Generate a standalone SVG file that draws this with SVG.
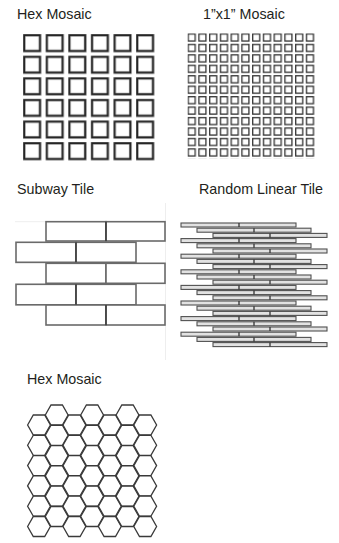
<svg xmlns="http://www.w3.org/2000/svg" xmlns:xlink="http://www.w3.org/1999/xlink" width="339" height="543" viewBox="0 0 339 543">
<style>
.lbl{font-family:"Liberation Sans","Open Sans",Arial,sans-serif;font-size:14.3px;fill:#231f20}
.brick{fill:#fff;stroke:#6a6a6a;stroke-width:1.6}
.faint{fill:none;stroke:#eeeeee;stroke-width:1}
.strip{fill:#e2e2e2;stroke:#505050;stroke-width:1.1}
.joint{stroke:#333;stroke-width:1.3}
.hex{fill:#fff;stroke:#3a3a3a;stroke-width:1.3}
</style>
<defs>
<pattern id="sq1" patternUnits="userSpaceOnUse" x="23" y="34" width="22.6" height="21.6">
<rect x="1.2" y="1.2" width="15.8" height="15.8" fill="none" stroke="#bdbdbd" stroke-width="3"/>
<rect x="1.2" y="1.2" width="15.8" height="15.8" fill="none" stroke="#222" stroke-width="1.9"/>
</pattern>
<pattern id="sq2" patternUnits="userSpaceOnUse" x="187.5" y="33.3" width="10.75" height="10.45">
<rect x="0.7" y="0.7" width="7" height="7" fill="none" stroke="#333" stroke-width="1.3"/>
</pattern>
<polygon id="hx" points="-11.4,0 -5.7,-10 5.7,-10 11.4,0 5.7,10 -5.7,10"/>
</defs>
<rect width="339" height="543" fill="#fff"/>

<g id="hex-mosaic-squares">
<text class="lbl" x="17" y="19">Hex Mosaic</text>
<rect x="23" y="34" width="133" height="127" fill="url(#sq1)"/>
</g>

<g id="mosaic-1x1">
<text class="lbl" x="203" y="19">1”x1” Mosaic</text>
<rect x="187.5" y="33.3" width="128" height="125" fill="url(#sq2)"/>
</g>

<g id="subway-tile">
<text class="lbl" x="17" y="194">Subway Tile</text>
<line class="faint" x1="165.5" y1="203" x2="165.5" y2="360"/>
<line class="faint" x1="15" y1="221.7" x2="46" y2="221.7"/>
<line class="faint" x1="15" y1="263" x2="46" y2="263"/>
<line class="faint" x1="15" y1="305" x2="46" y2="305"/>
<rect class="brick" x="46" y="221.7" width="60" height="19.3"/>
<rect class="brick" x="106" y="221.7" width="59" height="19.3"/>
<rect class="brick" x="16" y="242.3" width="60" height="20"/>
<rect class="brick" x="76" y="242.3" width="60" height="20"/>
<rect class="brick" x="46" y="263.3" width="60" height="20"/>
<rect class="brick" x="106" y="263.3" width="59" height="20"/>
<rect class="brick" x="16" y="284.3" width="60" height="20.5"/>
<rect class="brick" x="76" y="284.3" width="60" height="20.5"/>
<rect class="brick" x="46" y="305" width="60" height="20"/>
<rect class="brick" x="106" y="305" width="59" height="20"/>
<line class="joint" x1="106" y1="221.7" x2="106" y2="241"/>
<line class="joint" x1="76" y1="242.3" x2="76" y2="262.3"/>
<line class="joint" x1="76" y1="284.3" x2="76" y2="304.8"/>
<line class="joint" x1="106" y1="305" x2="106" y2="325"/>
</g>

<g id="random-linear-tile">
<text class="lbl" x="199" y="194">Random Linear Tile</text>
<g id="strips">
<rect class="strip" x="181" y="223" width="115" height="4"/><rect class="strip" x="197" y="228.2" width="114" height="4"/><rect class="strip" x="213" y="233.4" width="114" height="4"/>
<rect class="strip" x="181" y="238.6" width="115" height="4"/><rect class="strip" x="197" y="243.8" width="114" height="4"/><rect class="strip" x="213" y="249" width="114" height="4"/>
<rect class="strip" x="181" y="254.2" width="115" height="4"/><rect class="strip" x="197" y="259.4" width="114" height="4"/><rect class="strip" x="213" y="264.6" width="114" height="4"/>
<rect class="strip" x="181" y="269.8" width="115" height="4"/><rect class="strip" x="197" y="275" width="114" height="4"/><rect class="strip" x="213" y="280.2" width="114" height="4"/>
<rect class="strip" x="181" y="285.4" width="115" height="4"/><rect class="strip" x="197" y="290.6" width="114" height="4"/><rect class="strip" x="213" y="295.8" width="114" height="4"/>
<rect class="strip" x="181" y="301" width="115" height="4"/><rect class="strip" x="197" y="306.2" width="114" height="4"/><rect class="strip" x="213" y="311.4" width="114" height="4"/>
<rect class="strip" x="181" y="316.6" width="115" height="4"/><rect class="strip" x="197" y="321.8" width="114" height="4"/><rect class="strip" x="213" y="327" width="114" height="4"/>
<rect class="strip" x="181" y="332.2" width="115" height="4"/><rect class="strip" x="197" y="337.4" width="114" height="4"/><rect class="strip" x="213" y="342.6" width="114" height="4"/>
</g>
<g id="strip-joints" class="joint">
<line x1="239" y1="223" x2="239" y2="227"/><line x1="254" y1="228.2" x2="254" y2="232.2"/><line x1="270" y1="233.4" x2="270" y2="237.4"/>
<line x1="239" y1="238.6" x2="239" y2="242.6"/><line x1="254" y1="243.8" x2="254" y2="247.8"/><line x1="270" y1="249" x2="270" y2="253"/>
<line x1="239" y1="254.2" x2="239" y2="258.2"/><line x1="254" y1="259.4" x2="254" y2="263.4"/><line x1="270" y1="264.6" x2="270" y2="268.6"/>
<line x1="239" y1="269.8" x2="239" y2="273.8"/><line x1="254" y1="275" x2="254" y2="279"/><line x1="270" y1="280.2" x2="270" y2="284.2"/>
<line x1="239" y1="285.4" x2="239" y2="289.4"/><line x1="254" y1="290.6" x2="254" y2="294.6"/><line x1="270" y1="295.8" x2="270" y2="299.8"/>
<line x1="239" y1="301" x2="239" y2="305"/><line x1="254" y1="306.2" x2="254" y2="310.2"/><line x1="270" y1="311.4" x2="270" y2="315.4"/>
<line x1="239" y1="316.6" x2="239" y2="320.6"/><line x1="254" y1="321.8" x2="254" y2="325.8"/><line x1="270" y1="327" x2="270" y2="331"/>
<line x1="239" y1="332.2" x2="239" y2="336.2"/><line x1="254" y1="337.4" x2="254" y2="341.4"/><line x1="270" y1="342.6" x2="270" y2="346.6"/>
</g>
</g>

<g id="hex-mosaic">
<text class="lbl" x="27" y="384">Hex Mosaic</text>
<g class="hex">
<use xlink:href="#hx" x="39" y="425"/><use xlink:href="#hx" x="39" y="445.3"/><use xlink:href="#hx" x="39" y="465.6"/><use xlink:href="#hx" x="39" y="485.9"/><use xlink:href="#hx" x="39" y="506.2"/><use xlink:href="#hx" x="39" y="526.5"/>
<use xlink:href="#hx" x="56.7" y="415"/><use xlink:href="#hx" x="56.7" y="435.3"/><use xlink:href="#hx" x="56.7" y="455.6"/><use xlink:href="#hx" x="56.7" y="475.9"/><use xlink:href="#hx" x="56.7" y="496.2"/><use xlink:href="#hx" x="56.7" y="516.5"/>
<use xlink:href="#hx" x="74.4" y="425"/><use xlink:href="#hx" x="74.4" y="445.3"/><use xlink:href="#hx" x="74.4" y="465.6"/><use xlink:href="#hx" x="74.4" y="485.9"/><use xlink:href="#hx" x="74.4" y="506.2"/><use xlink:href="#hx" x="74.4" y="526.5"/>
<use xlink:href="#hx" x="92.1" y="415"/><use xlink:href="#hx" x="92.1" y="435.3"/><use xlink:href="#hx" x="92.1" y="455.6"/><use xlink:href="#hx" x="92.1" y="475.9"/><use xlink:href="#hx" x="92.1" y="496.2"/><use xlink:href="#hx" x="92.1" y="516.5"/>
<use xlink:href="#hx" x="109.8" y="425"/><use xlink:href="#hx" x="109.8" y="445.3"/><use xlink:href="#hx" x="109.8" y="465.6"/><use xlink:href="#hx" x="109.8" y="485.9"/><use xlink:href="#hx" x="109.8" y="506.2"/><use xlink:href="#hx" x="109.8" y="526.5"/>
<use xlink:href="#hx" x="127.5" y="415"/><use xlink:href="#hx" x="127.5" y="435.3"/><use xlink:href="#hx" x="127.5" y="455.6"/><use xlink:href="#hx" x="127.5" y="475.9"/><use xlink:href="#hx" x="127.5" y="496.2"/><use xlink:href="#hx" x="127.5" y="516.5"/>
<use xlink:href="#hx" x="145.2" y="425"/><use xlink:href="#hx" x="145.2" y="445.3"/><use xlink:href="#hx" x="145.2" y="465.6"/><use xlink:href="#hx" x="145.2" y="485.9"/><use xlink:href="#hx" x="145.2" y="506.2"/><use xlink:href="#hx" x="145.2" y="526.5"/>
</g>
</g>
</svg>
